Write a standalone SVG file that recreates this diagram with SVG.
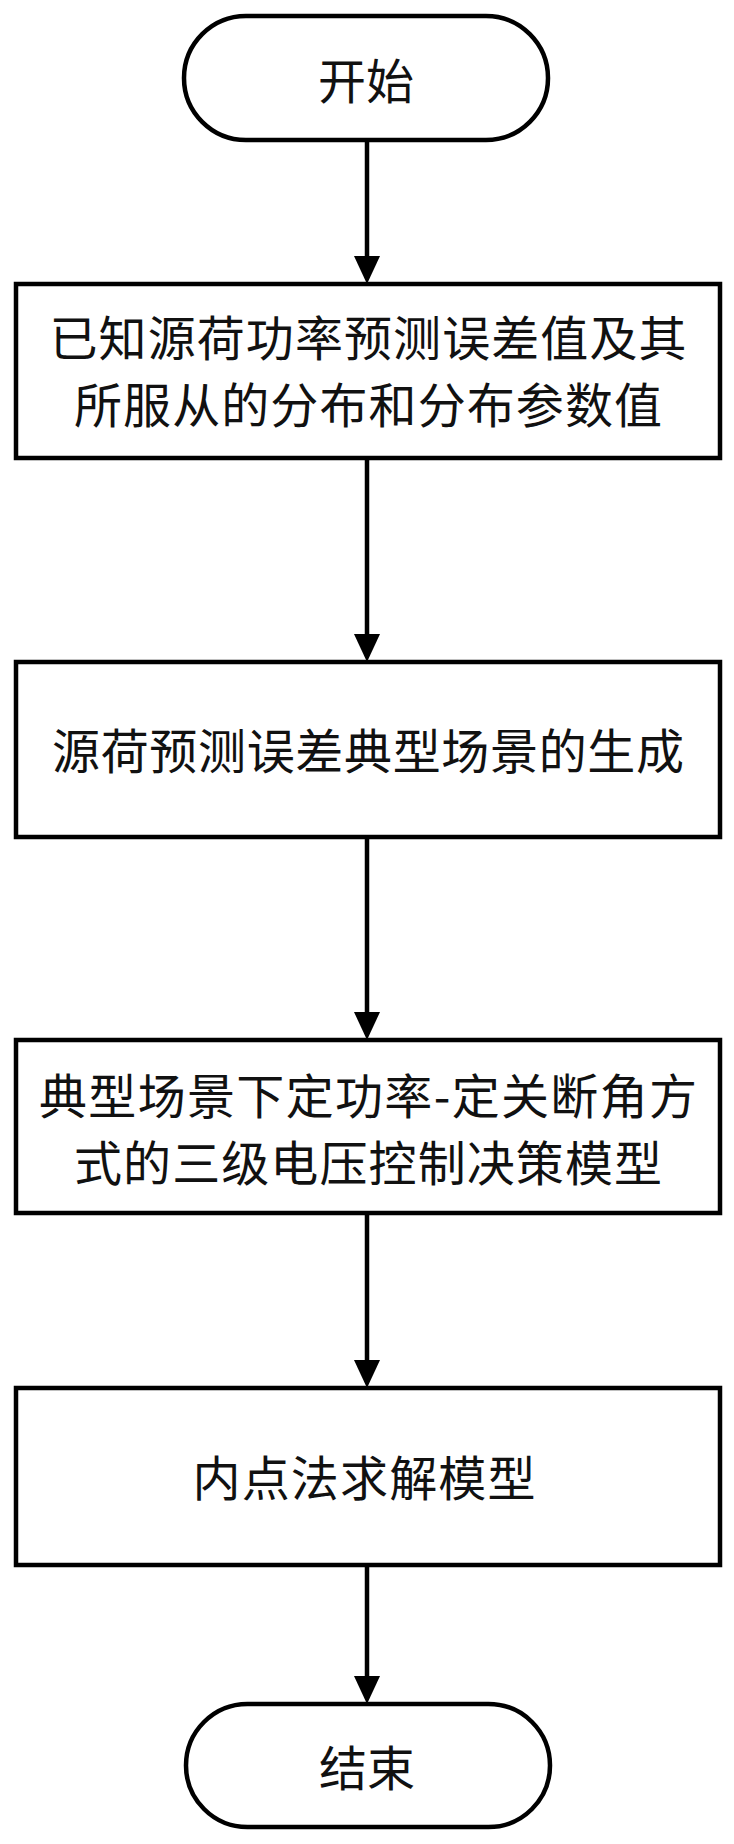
<svg xmlns="http://www.w3.org/2000/svg" width="734" height="1844" viewBox="0 0 734 1844">
<defs>
<marker id="ah" markerUnits="userSpaceOnUse" markerWidth="28" markerHeight="28" viewBox="0 0 28 28" refX="14" refY="28" orient="auto-start-reverse">
<path d="M1,0 L27,0 L14,28 Z" fill="#000" transform="rotate(-90 14 14)"/>
</marker>
<style>
.n{fill:#fff;stroke:#000;stroke-width:4.5}
.t{font-family:"Noto Sans CJK SC","Noto Sans",sans-serif;font-size:48px;fill:#111;text-anchor:middle;dominant-baseline:central}
.c line{stroke:#000;stroke-width:4.5}
.c path{fill:#000}
</style>
</defs>
<rect width="734" height="1844" fill="#fff"/>
<g class="c" id="connectors">
<line x1="367" y1="140" x2="367" y2="258"/><path d="M354,256 L380,256 L367,284 Z"/>
<line x1="367" y1="458" x2="367" y2="636"/><path d="M354,634 L380,634 L367,662 Z"/>
<line x1="367" y1="837" x2="367" y2="1014"/><path d="M354,1012 L380,1012 L367,1040 Z"/>
<line x1="367" y1="1213" x2="367" y2="1362"/><path d="M354,1360 L380,1360 L367,1388 Z"/>
<line x1="367" y1="1565" x2="367" y2="1678"/><path d="M354,1676 L380,1676 L367,1704 Z"/>
</g>
<g id="start">
<rect class="n" x="184" y="16" width="364" height="124" rx="62" ry="62"/>
<text class="t" x="366" y="78">开始</text>
</g>
<g id="step1">
<rect class="n" x="16" y="284" width="704" height="174"/>
<text class="t" x="368" y="335" textLength="637" lengthAdjust="spacing">已知源荷功率预测误差值及其</text>
<text class="t" x="368" y="402" textLength="588" lengthAdjust="spacing">所服从的分布和分布参数值</text>
</g>
<g id="step2">
<rect class="n" x="16" y="662" width="704" height="175"/>
<text class="t" x="368" y="748" textLength="632" lengthAdjust="spacing">源荷预测误差典型场景的生成</text>
</g>
<g id="step3">
<rect class="n" x="16" y="1040" width="704" height="173"/>
<text class="t" x="368" y="1093" textLength="658" lengthAdjust="spacing">典型场景下定功率-定关断角方</text>
<text class="t" x="368" y="1160" textLength="588" lengthAdjust="spacing">式的三级电压控制决策模型</text>
</g>
<g id="step4">
<rect class="n" x="16" y="1388" width="704" height="177"/>
<text class="t" x="364" y="1475" textLength="343" lengthAdjust="spacing">内点法求解模型</text>
</g>
<g id="end">
<rect class="n" x="186" y="1704" width="364" height="123" rx="61.5" ry="61.5"/>
<text class="t" x="367" y="1765">结束</text>
</g>
</svg>
